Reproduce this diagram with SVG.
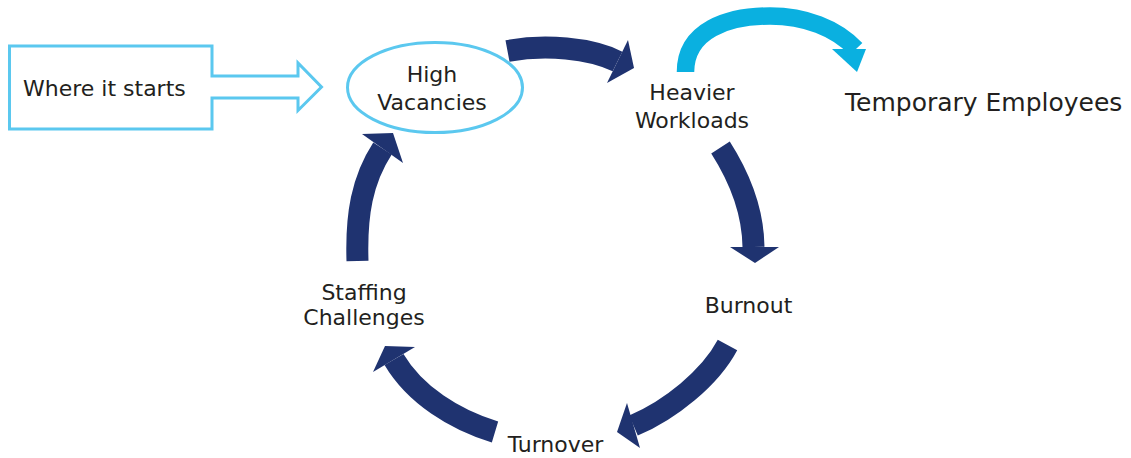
<svg xmlns="http://www.w3.org/2000/svg" width="1131" height="458" viewBox="0 0 1131 458">
<style>
.lbl{font-family:"DejaVu Sans","Liberation Sans",sans-serif;font-size:22px;fill:#231F20;text-anchor:middle}
.outline{fill:#fff;stroke:#5BC8EF;stroke-width:3}
.shaft{fill:none;stroke:#1F3370;stroke-width:22;stroke-linecap:butt}
.head{fill:#1F3370}
.cshaft{fill:none;stroke:#0AB0E0;stroke-width:17.5;stroke-linecap:butt}
.chead{fill:#0AB0E0}
</style>
<rect width="1131" height="458" fill="#fff"/>
<g id="start">
<path class="outline" d="M9.5,46 H212 V76 H298 V63 L321.5,87 L298,110.5 V98 H212 V129 H9.5 Z"/>
<text class="lbl" x="23" y="96" style="text-anchor:start">Where it starts</text>
</g>
<g id="high-vacancies">
<ellipse class="outline" cx="435" cy="87.5" rx="87.5" ry="45"/>
<text class="lbl" x="432" y="82">High</text>
<text class="lbl" x="432" y="110">Vacancies</text>
</g>
<g id="heavier-workloads">
<text class="lbl" x="692" y="100">Heavier</text>
<text class="lbl" x="692" y="128">Workloads</text>
</g>
<g id="temporary-employees">
<text class="lbl" x="845" y="111" style="text-anchor:start;font-size:25px">Temporary Employees</text>
</g>
<g id="burnout">
<text class="lbl" x="748.5" y="313">Burnout</text>
</g>
<g id="turnover">
<text class="lbl" x="555.5" y="452">Turnover</text>
</g>
<g id="staffing-challenges">
<text class="lbl" x="364" y="300">Staffing</text>
<text class="lbl" x="364" y="325">Challenges</text>
</g>
<g id="connectors">
<path class="shaft" d="M507.5,51 C545,44 590,48 617.5,61.5"/>
<polygon class="head" points="628,40 634,68 607,83"/>
<path class="cshaft" d="M685.5,72 C685.5,30 728,16 770,16 C805,16 836,28 856,49"/>
<polygon class="chead" points="832,49 866,49 857,72"/>
<path class="shaft" d="M720.5,147.5 C740,178 753,210 753.5,247"/>
<polygon class="head" points="730,247 779,247 755,263"/>
<path class="shaft" d="M727.5,345 C710,378 670,410 633.5,425.5"/>
<polygon class="head" points="627,403 617,432 640,448"/>
<path class="shaft" d="M495,432 C455,420 415,395 394,359.5"/>
<polygon class="head" points="373,372 385,346 415,347"/>
<path class="shaft" d="M357.5,261 C356,215 362,180 382.5,148.5"/>
<polygon class="head" points="362,134 393,133 403,163"/>
</g>
</svg>
